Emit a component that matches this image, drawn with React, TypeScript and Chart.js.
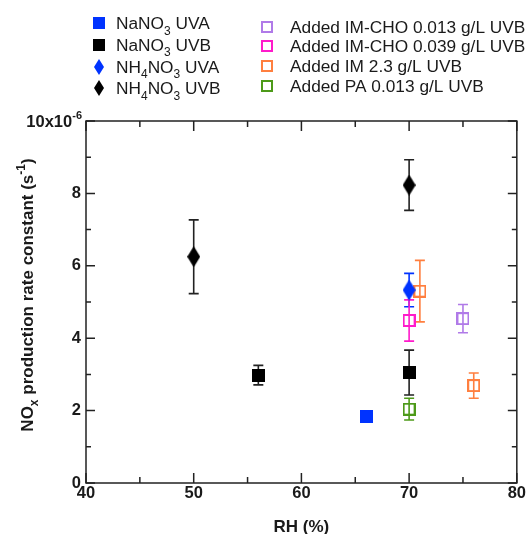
import React, { useEffect, useRef } from 'react';
import { Chart, registerables } from 'chart.js';
Chart.register(...registerables);

const FONT = '"Liberation Sans", Arial, Helvetica, sans-serif';
const INK = '#1a1a1a';

// RH (%) and NOx production rate constant (in units of 1e-6 s^-1) with ± error
const nano3UvaRH = [66];
const nano3UvaK = [1.85];
const nano3UvaErr = [0];

const nano3UvbRH = [56, 70];
const nano3UvbK = [2.98, 3.05];
const nano3UvbErr = [0.27, 0.62];

const nh4no3UvaRH = [70];
const nh4no3UvaK = [5.33];
const nh4no3UvaErr = [0.46];

const nh4no3UvbRH = [50, 70];
const nh4no3UvbK = [6.25, 8.23];
const nh4no3UvbErr = [1.02, 0.7];

const imcho013RH = [75];
const imcho013K = [4.54];
const imcho013Err = [0.39];

const imcho039RH = [70];
const imcho039K = [4.49];
const imcho039Err = [0.57];

const im23RH = [71, 76];
const im23K = [5.3, 2.69];
const im23Err = [0.85, 0.35];

const pa013RH = [70];
const pa013K = [2.04];
const pa013Err = [0.3];

const xTitle = 'RH (%)';
const yTitle = 'NO_{x} production rate constant (s^{-1})';
const yTopLabel = '10x10^{-6}';

type Kind = 'fsq' | 'osq' | 'dia';

function richParts(s: string) {
  const out: { t: string; k: 'n' | 'sub' | 'sup' }[] = [];
  const re = /(_\{[^}]*\}|\^\{[^}]*\})/g;
  let last = 0;
  let m: RegExpExecArray | null;
  while ((m = re.exec(s))) {
    if (m.index > last) out.push({ t: s.slice(last, m.index), k: 'n' });
    out.push({ t: m[0].slice(2, -1), k: m[0][0] === '_' ? 'sub' : 'sup' });
    last = m.index + m[0].length;
  }
  if (last < s.length) out.push({ t: s.slice(last), k: 'n' });
  return out;
}

function drawRich(ctx: CanvasRenderingContext2D, s: string, x: number, y: number, size: number, weight: string, align: 'left' | 'right' | 'center') {
  const parts = richParts(s);
  const small = Math.round(size * 0.68);
  const fontOf = (k: string) => `${weight} ${k === 'n' ? size : small}px ${FONT}`;
  let w = 0;
  for (const p of parts) { ctx.font = fontOf(p.k); w += ctx.measureText(p.t).width; }
  let cx = align === 'left' ? x : align === 'right' ? x - w : x - w / 2;
  ctx.textBaseline = 'alphabetic';
  ctx.textAlign = 'left';
  const base = y + size * 0.358;
  for (const p of parts) {
    ctx.font = fontOf(p.k);
    const dy = p.k === 'sub' ? size * 0.3 : p.k === 'sup' ? -size * 0.45 : 0;
    ctx.fillText(p.t, cx, base + dy);
    cx += ctx.measureText(p.t).width;
  }
}

function makeMarker(kind: Kind, color: string, w: number, h: number) {
  const c = document.createElement('canvas');
  c.width = w; c.height = h;
  const g = c.getContext('2d')!;
  if (kind === 'fsq') { g.fillStyle = color; g.fillRect(0, 0, w, h); }
  else if (kind === 'osq') { g.strokeStyle = color; g.lineWidth = 2; g.strokeRect(1, 1, w - 2, h - 2); }
  else {
    g.fillStyle = color; g.beginPath();
    g.moveTo(w / 2, 0); g.lineTo(w, h / 2); g.lineTo(w / 2, h); g.lineTo(0, h / 2); g.closePath(); g.fill();
  }
  return c;
}

const BLUE = '#0033ff';
const BLACK = '#000000';
const PURPLE = '#b07ae8';
const MAGENTA = '#ff1acb';
const ORANGE = '#ff7f3f';
const GREEN = '#4d9a19';

const series = [
  { label: 'NaNO_{3} UVA', rh: nano3UvaRH, k: nano3UvaK, err: nano3UvaErr, kind: 'fsq' as Kind, color: BLUE, errColor: BLUE },
  { label: 'NaNO_{3} UVB', rh: nano3UvbRH, k: nano3UvbK, err: nano3UvbErr, kind: 'fsq' as Kind, color: BLACK, errColor: '#222' },
  { label: 'NH_{4}NO_{3} UVA', rh: nh4no3UvaRH, k: nh4no3UvaK, err: nh4no3UvaErr, kind: 'dia' as Kind, color: BLUE, errColor: BLUE },
  { label: 'NH_{4}NO_{3} UVB', rh: nh4no3UvbRH, k: nh4no3UvbK, err: nh4no3UvbErr, kind: 'dia' as Kind, color: BLACK, errColor: '#222' },
  { label: 'Added IM-CHO 0.013 g/L UVB', rh: imcho013RH, k: imcho013K, err: imcho013Err, kind: 'osq' as Kind, color: PURPLE, errColor: PURPLE },
  { label: 'Added IM-CHO 0.039 g/L UVB', rh: imcho039RH, k: imcho039K, err: imcho039Err, kind: 'osq' as Kind, color: MAGENTA, errColor: MAGENTA },
  { label: 'Added IM 2.3 g/L UVB', rh: im23RH, k: im23K, err: im23Err, kind: 'osq' as Kind, color: ORANGE, errColor: ORANGE },
  { label: 'Added PA 0.013 g/L UVB', rh: pa013RH, k: pa013K, err: pa013Err, kind: 'osq' as Kind, color: GREEN, errColor: GREEN },
];

const errorBarPlugin = {
  id: 'errbars',
  beforeDatasetsDraw(chart: any) {
    const ctx = chart.ctx as CanvasRenderingContext2D;
    const ys = chart.scales.y;
    chart.data.datasets.forEach((ds: any, i: number) => {
      const meta = chart.getDatasetMeta(i);
      (ds.errors || []).forEach((e: number, j: number) => {
        if (!e) return;
        const pt = meta.data[j];
        const v = ds.data[j].y;
        const t = ys.getPixelForValue(v + e);
        const b = ys.getPixelForValue(v - e);
        ctx.save();
        ctx.strokeStyle = ds.errColor;
        ctx.lineWidth = 1.6;
        ctx.beginPath();
        ctx.moveTo(pt.x, t); ctx.lineTo(pt.x, b);
        ctx.moveTo(pt.x - 5, t); ctx.lineTo(pt.x + 5, t);
        ctx.moveTo(pt.x - 5, b); ctx.lineTo(pt.x + 5, b);
        ctx.stroke();
        ctx.restore();
      });
    });
  },
};

const framePlugin = {
  id: 'frame',
  afterDraw(chart: any) {
    const ctx = chart.ctx as CanvasRenderingContext2D;
    const { left, right, top, bottom } = chart.chartArea;
    const xs = chart.scales.x, ys = chart.scales.y;
    ctx.save();
    ctx.strokeStyle = '#222';
    ctx.lineWidth = 1.5;
    ctx.strokeRect(left, top, right - left, bottom - top);
    ctx.beginPath();
    ys.ticks.forEach((t: any) => {
      const py = ys.getPixelForValue(t.value);
      const len = t.value % 2 === 0 ? 9 : 5;
      ctx.moveTo(left, py); ctx.lineTo(left + len, py);
      ctx.moveTo(right, py); ctx.lineTo(right - len, py);
    });
    xs.ticks.forEach((t: any) => {
      const px = xs.getPixelForValue(t.value);
      const len = t.value % 10 === 0 ? 10 : 6;
      ctx.moveTo(px, bottom); ctx.lineTo(px, bottom - len);
      ctx.moveTo(px, top); ctx.lineTo(px, top + len);
    });
    ctx.stroke();

    ctx.fillStyle = INK;
    // top y label
    drawRich(ctx, yTopLabel, left - 4, ys.getPixelForValue(10), 16.5, 'bold', 'right');
    // y title
    ctx.save();
    ctx.translate(27, (top + bottom) / 2 - 7);
    ctx.rotate(-Math.PI / 2);
    drawRich(ctx, yTitle, 0, 0, 17, 'bold', 'center');
    ctx.restore();
    // x title
    drawRich(ctx, xTitle, (left + right) / 2, 526, 17, 'bold', 'center');

    // legend
    const leftRows = [23.3, 44.7, 67, 88.3];
    const rightRows = [26.7, 46.2, 66, 85.8];
    series.forEach((s, i) => {
      const isLeft = i < 4;
      const y = isLeft ? leftRows[i] : rightRows[i - 4];
      const mx = isLeft ? 99 : 267;
      const tx = isLeft ? 116 : 290;
      const m = s.kind === 'dia' ? makeMarker('dia', s.color, 10, 16) : makeMarker(s.kind, s.color, 12, 12);
      ctx.drawImage(m, Math.round(mx - m.width / 2), Math.round(y - m.height / 2));
      ctx.fillStyle = INK;
      drawRich(ctx, s.label, tx, y, 17.3, 'normal', 'left');
    });
    ctx.restore();
  },
};

export default function App() {
  const ref = useRef<HTMLCanvasElement>(null);
  useEffect(() => {
    if (!ref.current) return;
    Chart.defaults.font.family = FONT;
    const datasets = series.map((s) => ({
      label: s.label,
      data: s.rh.map((x, i) => ({ x, y: s.k[i] })),
      errors: s.err,
      errColor: s.errColor,
      showLine: false,
      pointStyle: s.kind === 'dia' ? makeMarker('dia', s.color, 13, 21) : makeMarker(s.kind, s.color, 13, 13),
      pointRadius: 6,
      backgroundColor: s.color,
      borderColor: s.color,
    }));
    const chart = new Chart(ref.current, {
      type: 'scatter',
      data: { datasets: datasets as any },
      options: {
        animation: false,
        responsive: false,
        devicePixelRatio: 1,
        layout: { padding: { top: 121, right: 10, left: 0, bottom: 0 } },
        plugins: { legend: { display: false }, tooltip: { enabled: false } },
        scales: {
          x: {
            type: 'linear', min: 40, max: 80,
            grid: { display: false, drawTicks: false },
            border: { display: false },
            ticks: {
              stepSize: 5, padding: 1, color: INK,
              font: { size: 16.5, weight: 'bold' },
              callback: (v: any) => (Number(v) % 10 === 0 ? String(v) : ''),
              maxRotation: 0, autoSkip: false,
            },
            afterFit: (scale: any) => { scale.height = 51; },
          },
          y: {
            type: 'linear', min: 0, max: 10,
            grid: { display: false, drawTicks: false },
            border: { display: false },
            ticks: {
              stepSize: 1, padding: 5, color: INK,
              font: { size: 16.5, weight: 'bold' },
              callback: (v: any) => (Number(v) % 2 === 0 && Number(v) < 10 ? String(v) : ''),
              autoSkip: false,
            },
            afterFit: (scale: any) => { scale.width = 86; },
          },
        },
      } as any,
      plugins: [errorBarPlugin, framePlugin],
    });
    return () => chart.destroy();
  }, []);
  return (
    <canvas
      ref={ref}
      width={527}
      height={534}
      style={{ position: 'fixed', left: 0, top: 0, width: 527, height: 534 }}
    />
  );
}
